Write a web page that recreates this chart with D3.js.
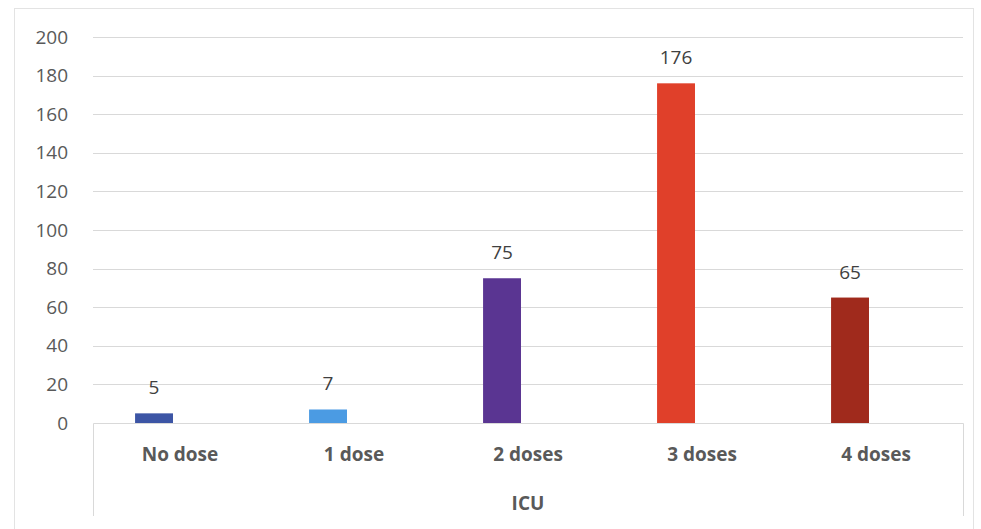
<!DOCTYPE html>
<html>
<head>
<meta charset="utf-8">
<script src="https://cdn.jsdelivr.net/npm/d3@7"></script>
<style>
  body { margin: 0; background: #fff; }
  text { font-family: "Open Sans", "Liberation Sans", sans-serif; }
</style>
</head>
<body>
<div id="chart"></div>
<script>
var categories = ["No dose", "1 dose", "2 doses", "3 doses", "4 doses"];
var icuValues = [5, 7, 75, 176, 65];
var barColors = ["#3c55a5", "#4b9be3", "#5a3592", "#e0402a", "#a02a1c"];
var yTicks = [0, 20, 40, 60, 80, 100, 120, 140, 160, 180, 200];
var groupLabel = "ICU";

function init(){
    var W = 981, H = 529;
    var margin = {top: 37, right: 18, bottom: 106, left: 93};
    var w = W - margin.left - margin.right;
    var h = H - margin.top - margin.bottom;

    var dataset = categories.map(function(c, i){
        return {cat: c, value: icuValues[i], color: barColors[i]};
    });

    var svg = d3.select("#chart")
        .append("svg")
        .attr("width", W)
        .attr("height", H);

    // outer frame
    svg.append("rect")
        .attr("x", 14.5).attr("y", 8.5)
        .attr("width", 959).attr("height", 530)
        .attr("fill", "none")
        .attr("stroke", "#e3e3e3");

    var g = svg.append("g")
        .attr("transform", "translate(" + margin.left + "," + margin.top + ")");

    var xScale = d3.scaleBand()
        .domain(categories)
        .range([0, w]);

    // two slots per category, the ICU bar sits in the first one
    var sub = d3.scaleBand()
        .domain([0, 1])
        .range([0, xScale.bandwidth()])
        .paddingInner(0.27)
        .paddingOuter(0.81);

    var yScale = d3.scaleLinear()
        .domain([0, 200])
        .range([h, 0]);

    // gridlines
    g.append("g")
        .selectAll("line")
        .data(yTicks.slice(1))
        .enter()
        .append("line")
        .attr("x1", 0).attr("x2", w)
        .attr("y1", function(d){ return Math.round(yScale(d)) + 0.5; })
        .attr("y2", function(d){ return Math.round(yScale(d)) + 0.5; })
        .attr("stroke", "#d9d9d9")
        .attr("stroke-width", 1);

    // y axis labels
    var yAxis = d3.axisLeft(yScale)
        .tickValues(yTicks)
        .tickSize(0)
        .tickPadding(25);

    var ya = g.append("g").call(yAxis);
    ya.select(".domain").remove();
    ya.selectAll("text")
        .attr("font-size", "19px")
        .attr("fill", "#595959")
        .style("font-family", "'Open Sans', sans-serif");

    // category box
    var boxBottom = h + 93;
    g.append("path")
        .attr("d", "M0.5," + boxBottom + "V" + (h + 0.5) + "H" + (w + 0.5) + "V" + boxBottom)
        .attr("fill", "none")
        .attr("stroke", "#d9d9d9");

    // bars
    g.selectAll(".bar")
        .data(dataset)
        .enter()
        .append("rect")
        .attr("class", "bar")
        .attr("x", function(d){ return xScale(d.cat) + sub(0); })
        .attr("width", sub.bandwidth())
        .attr("y", function(d){ return yScale(d.value); })
        .attr("height", function(d){ return h - yScale(d.value); })
        .attr("fill", function(d){ return d.color; });

    // value labels
    g.selectAll(".val")
        .data(dataset)
        .enter()
        .append("text")
        .attr("class", "val")
        .attr("x", function(d){ return xScale(d.cat) + sub(0) + sub.bandwidth() / 2; })
        .attr("y", function(d){ return yScale(d.value) - 19; })
        .attr("text-anchor", "middle")
        .attr("font-size", "19px")
        .attr("fill", "#404040")
        .text(function(d){ return d.value; });

    // category labels
    g.selectAll(".cat")
        .data(categories)
        .enter()
        .append("text")
        .attr("class", "cat")
        .attr("x", function(d){ return xScale(d) + xScale.bandwidth() / 2; })
        .attr("y", h + 38)
        .attr("text-anchor", "middle")
        .attr("font-size", "19px")
        .attr("font-weight", "bold")
        .attr("fill", "#595959")
        .text(function(d){ return d; });

    g.append("text")
        .attr("x", w / 2)
        .attr("y", h + 87)
        .attr("text-anchor", "middle")
        .attr("font-size", "19px")
        .attr("font-weight", "bold")
        .attr("fill", "#595959")
        .text(groupLabel);
}
window.onload = init;
</script>
</body>
</html>
